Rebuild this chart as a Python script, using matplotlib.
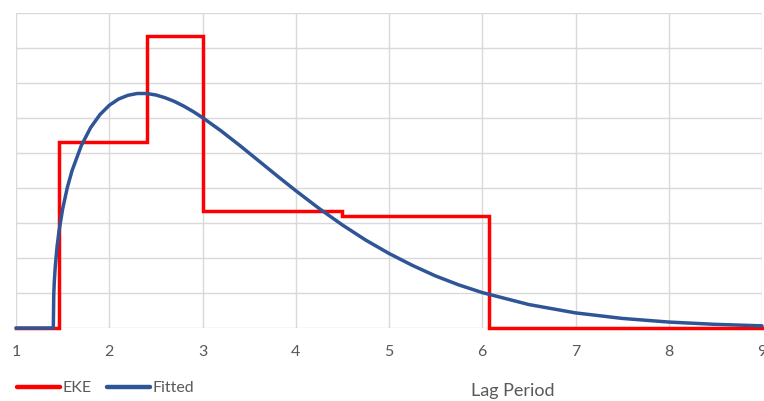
import matplotlib
matplotlib.use("Agg")
import matplotlib.pyplot as plt
from matplotlib.lines import Line2D

# EKE: piecewise-constant density (edges and heights of each step)
eke_edges = [1.0, 1.46, 2.40, 3.00, 4.50, 6.07, 9.0]
eke_heights = [0.0, 0.266, 0.417, 0.167, 0.160, 0.0]

# Fitted curve sampled along the lag axis
fit_x = [1.00, 1.40, 1.405, 1.41, 1.42, 1.44, 1.46, 1.50, 1.55, 1.60,
         1.70, 1.80, 1.90, 2.00, 2.10, 2.20, 2.30, 2.40, 2.50, 2.60,
         2.70, 2.80, 2.90, 3.00, 3.20, 3.40, 3.60, 3.80, 4.00, 4.25,
         4.50, 4.75, 5.00, 5.25, 5.50, 5.75, 6.00, 6.50, 7.00, 7.50,
         8.00, 8.50, 9.00]
fit_y = [0.0, 0.0, 0.0475, 0.064, 0.086, 0.1157, 0.1373, 0.170, 0.2005, 0.2244,
         0.2605, 0.2862, 0.3048, 0.3181, 0.3271, 0.3324, 0.3350, 0.3350, 0.3329, 0.3289,
         0.3236, 0.3169, 0.3092, 0.3006, 0.2815, 0.2607, 0.2391, 0.2174, 0.1962, 0.1708,
         0.1472, 0.1256, 0.1065, 0.0895, 0.0743, 0.0615, 0.0506, 0.0335, 0.0216, 0.0137,
         0.0085, 0.0052, 0.0031]

x_ticks = [1, 2, 3, 4, 5, 6, 7, 8, 9]
y_grid = [0.05 * i for i in range(10)]

label_color = "#595959"
grid_color = "#D9D9D9"
red = "#FF0000"
blue = "#2F5597"
font = ["Lato", "DejaVu Sans"]

fig = plt.figure(figsize=(7.64, 4.01), dpi=100)
ax = fig.add_axes([16 / 764, 1 - 328 / 401, 746 / 764, 315 / 401])

ax.set_xlim(1, 9)
ax.set_ylim(0, 0.45)
ax.set_xticks(x_ticks)
ax.set_xticklabels([str(t) for t in x_ticks], family=font, fontsize=11.5,
                   color=label_color)
ax.set_yticks(y_grid)
ax.set_yticklabels([])
ax.tick_params(axis="both", length=0, pad=12.5)
ax.grid(True, color=grid_color, linewidth=1.0)
ax.set_axisbelow(True)
for side, sp in ax.spines.items():
    sp.set_visible(False)

step_x = eke_edges
step_y = eke_heights + [eke_heights[-1]]
ax.step(step_x, step_y, where="post", color=red, linewidth=2.5,
        solid_joinstyle="miter", zorder=3, clip_on=False)
ax.plot(fit_x, fit_y, color=blue, linewidth=2.5, zorder=4, clip_on=False,
        solid_capstyle="round", solid_joinstyle="round")

handles = [Line2D([], [], color=red, linewidth=3.2, solid_capstyle="round"),
           Line2D([], [], color=blue, linewidth=3.2, solid_capstyle="round")]
leg = fig.legend(handles, ["EKE", "Fitted"], loc="center left",
                 bbox_to_anchor=(17 / 764, 1 - 388 / 401), ncol=2,
                 frameon=False, handlelength=2.7, handletextpad=0.12,
                 columnspacing=1.0, borderaxespad=0, borderpad=0,
                 prop={"family": font, "size": 11.5})
for t in leg.get_texts():
    t.set_color(label_color)

fig.text(513 / 764, 1 - 391 / 401, "Lag Period", ha="center", va="center",
         family=font, fontsize=13, color=label_color)

fig.savefig("out.png", dpi=100)
